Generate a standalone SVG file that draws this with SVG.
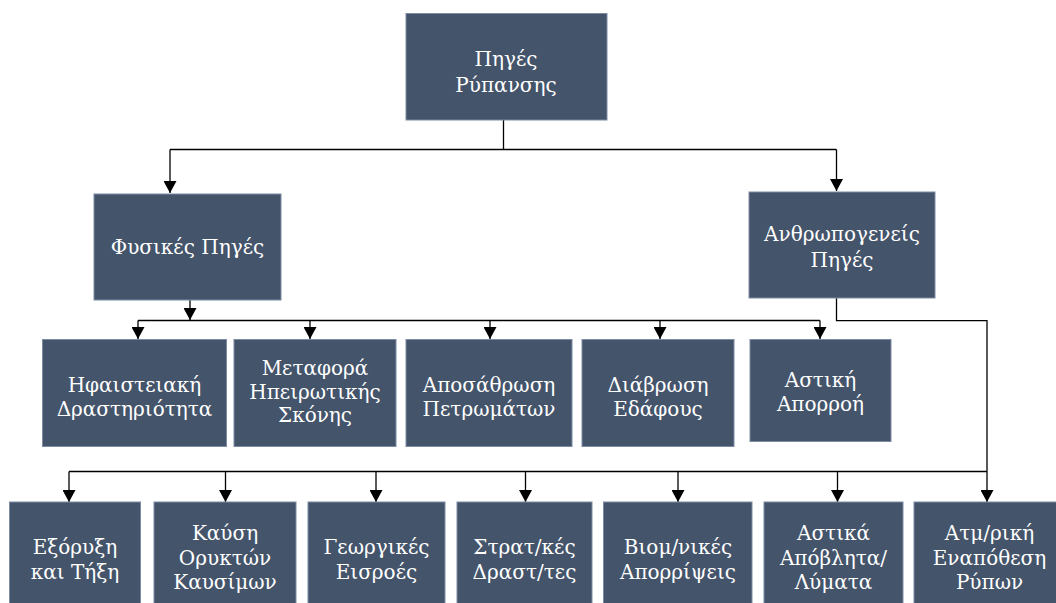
<svg xmlns="http://www.w3.org/2000/svg" width="1056" height="603" viewBox="0 0 1056 603">
  <style>
    .box { fill: #44546A; stroke: #7d8ca3; stroke-width: 1; }
    .lbl { font-family: "DejaVu Serif", "Liberation Serif", serif; font-size: 20px; fill: #ffffff; text-anchor: middle; }
    .wire { fill: none; stroke: #000000; stroke-width: 1.3; }
  </style>
  <defs>
    <marker id="tip" markerUnits="userSpaceOnUse" markerWidth="13" markerHeight="13" refX="12" refY="6.5" orient="auto">
      <path d="M0,0 L12,6.5 L0,13 z" fill="#000000"/>
    </marker>
  </defs>
  <rect width="1056" height="603" fill="#ffffff"/>

  <!-- connectors -->
  <g id="connectors" class="wire">
    <!-- root to the two main categories -->
    <path d="M503.5,120 V149.5"/>
    <path d="M170,149.5 H836.5"/>
    <path d="M170,149.5 V193" marker-end="url(#tip)"/>
    <path d="M836.5,149.5 V191" marker-end="url(#tip)"/>
    <!-- natural sources -->
    <path d="M190,300 V320" marker-end="url(#tip)"/>
    <path d="M138,320.5 H820"/>
    <path d="M138,320.5 V339" marker-end="url(#tip)"/>
    <path d="M310,320.5 V339" marker-end="url(#tip)"/>
    <path d="M490,320.5 V339" marker-end="url(#tip)"/>
    <path d="M660,320.5 V339" marker-end="url(#tip)"/>
    <path d="M820,320.5 V339" marker-end="url(#tip)"/>
    <!-- anthropogenic sources -->
    <path d="M836.5,298 V320.7 H987 V502" marker-end="url(#tip)"/>
    <path d="M69,471.5 H987"/>
    <path d="M69,471.5 V502" marker-end="url(#tip)"/>
    <path d="M225.5,471.5 V502" marker-end="url(#tip)"/>
    <path d="M376,471.5 V502" marker-end="url(#tip)"/>
    <path d="M525.5,471.5 V502" marker-end="url(#tip)"/>
    <path d="M678,471.5 V502" marker-end="url(#tip)"/>
    <path d="M837.5,471.5 V502" marker-end="url(#tip)"/>
  </g>

  <!-- root -->
  <g id="root">
    <rect class="box" x="406" y="13.5" width="201" height="106.5"/>
    <text class="lbl"><tspan x="506" y="65.5">Πηγές</tspan><tspan x="506" y="91.5">Ρύπανσης</tspan></text>
  </g>

  <!-- main categories -->
  <g id="natural">
    <rect class="box" x="94" y="194" width="187" height="106"/>
    <text class="lbl" x="187.5" y="254">Φυσικές Πηγές</text>
  </g>
  <g id="anthropogenic">
    <rect class="box" x="749" y="192" width="186" height="106"/>
    <text class="lbl"><tspan x="842" y="240.5">Ανθρωπογενείς</tspan><tspan x="842" y="266.5">Πηγές</tspan></text>
  </g>

  <!-- natural sources -->
  <g id="volcanic">
    <rect class="box" x="42.5" y="339.5" width="184" height="107"/>
    <text class="lbl"><tspan x="134.5" y="391.5">Ηφαιστειακή</tspan><tspan x="134.5" y="415.5">Δραστηριότητα</tspan></text>
  </g>
  <g id="dust">
    <rect class="box" x="234" y="339.5" width="162" height="107"/>
    <text class="lbl"><tspan x="315" y="375">Μεταφορά</tspan><tspan x="315" y="398.5">Ηπειρωτικής</tspan><tspan x="315" y="422">Σκόνης</tspan></text>
  </g>
  <g id="weathering">
    <rect class="box" x="406" y="339.5" width="166" height="107"/>
    <text class="lbl"><tspan x="489" y="391.5">Αποσάθρωση</tspan><tspan x="489" y="415.5">Πετρωμάτων</tspan></text>
  </g>
  <g id="erosion">
    <rect class="box" x="582" y="339.5" width="152" height="107"/>
    <text class="lbl"><tspan x="658" y="391.5">Διάβρωση</tspan><tspan x="658" y="415.5">Εδάφους</tspan></text>
  </g>
  <g id="runoff">
    <rect class="box" x="750" y="339.5" width="141" height="102"/>
    <text class="lbl"><tspan x="820.5" y="387">Αστική</tspan><tspan x="820.5" y="411">Απορροή</tspan></text>
  </g>

  <!-- anthropogenic sources -->
  <g id="mining">
    <rect class="box" x="9.5" y="502" width="131" height="110"/>
    <text class="lbl"><tspan x="75" y="554">Εξόρυξη</tspan><tspan x="75" y="579">και Τήξη</tspan></text>
  </g>
  <g id="fuels">
    <rect class="box" x="154" y="502" width="142" height="110"/>
    <text class="lbl"><tspan x="225" y="540">Καύση</tspan><tspan x="225" y="564.5">Ορυκτών</tspan><tspan x="225" y="589">Καυσίμων</tspan></text>
  </g>
  <g id="agriculture">
    <rect class="box" x="308" y="502" width="137" height="110"/>
    <text class="lbl"><tspan x="376.5" y="554">Γεωργικές</tspan><tspan x="376.5" y="579">Εισροές</tspan></text>
  </g>
  <g id="military">
    <rect class="box" x="457" y="502" width="135" height="110"/>
    <text class="lbl"><tspan x="524.5" y="554">Στρατ/κές</tspan><tspan x="524.5" y="579">Δραστ/τες</tspan></text>
  </g>
  <g id="industrial">
    <rect class="box" x="603.5" y="502" width="148.5" height="110"/>
    <text class="lbl"><tspan x="678" y="554">Βιομ/νικές</tspan><tspan x="678" y="579">Απορρίψεις</tspan></text>
  </g>
  <g id="urban-waste">
    <rect class="box" x="764" y="502" width="139" height="110"/>
    <text class="lbl"><tspan x="833.5" y="540">Αστικά</tspan><tspan x="833.5" y="564.5">Απόβλητα/</tspan><tspan x="833.5" y="589">Λύματα</tspan></text>
  </g>
  <g id="deposition">
    <rect class="box" x="914" y="502" width="150" height="110"/>
    <text class="lbl"><tspan x="989.5" y="540">Ατμ/ρική</tspan><tspan x="989.5" y="564.5">Εναπόθεση</tspan><tspan x="989.5" y="589">Ρύπων</tspan></text>
  </g>
</svg>
